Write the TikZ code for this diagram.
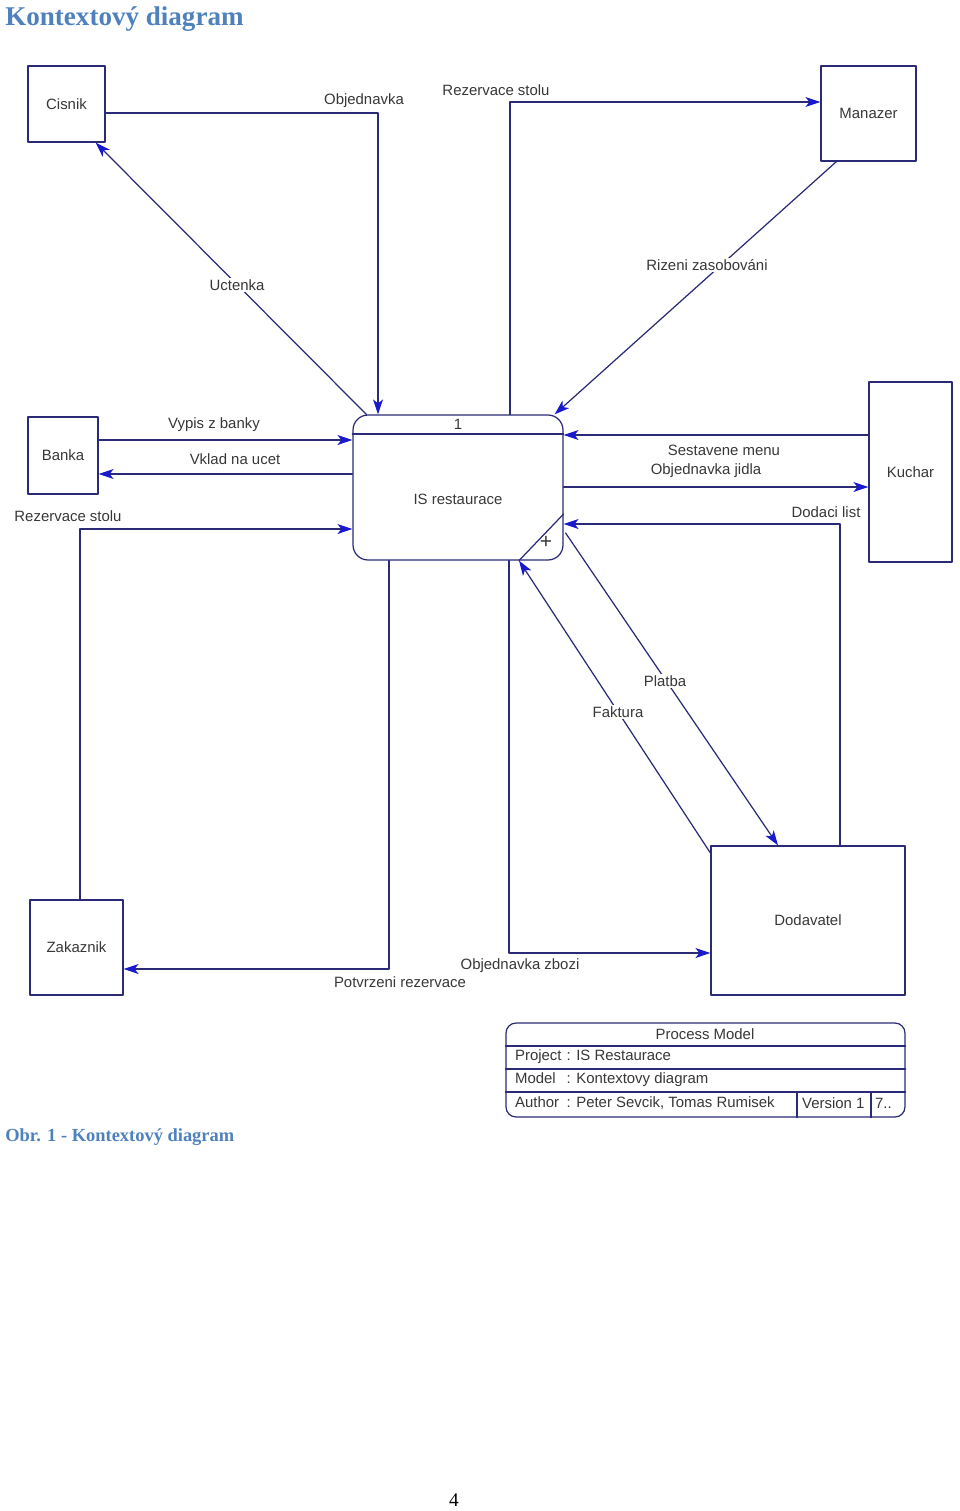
\documentclass[tikz,border=0pt]{standalone}
\usepackage{fontspec}
\setmainfont{Liberation Serif}
\setsansfont{Liberation Sans}
\usetikzlibrary{arrows.meta,calc}

\definecolor{linenavy}{RGB}{42,42,118}
\definecolor{tipblue}{RGB}{25,25,205}
\definecolor{labelgray}{RGB}{55,55,55}
\definecolor{headblue}{RGB}{79,129,189}

\newcommand{\dfdfont}{\sffamily\fontsize{8.5}{10}\selectfont}

\tikzset{
  entity/.style={draw=linenavy,line width=0.7pt,font=\dfdfont,text=labelgray,inner sep=0pt},
  process/.style={entity,rounded corners=0.3cm},
  flow/.style={draw=linenavy,line width=0.7pt,-{Stealth[length=0.3cm,width=0.2cm,inset=0.08cm,color=tipblue]}},
  flowlabel/.style={font=\dfdfont,text=labelgray,inner sep=1pt},
  cutlabel/.style={flowlabel,fill=white},
}

\begin{document}
\begin{tikzpicture}[x=0.02cm,y=-0.02cm,line cap=round,line join=round]
  \useasboundingbox (0,0) rectangle (960,1511);

  % headings
  \node[anchor=west,font=\bfseries\fontsize{15.4}{18}\selectfont,text=headblue,inner sep=0pt] (title) at (5,19) {Kontextový diagram};
  \node[anchor=west,font=\bfseries\fontsize{10.5}{12}\selectfont,text=headblue,inner sep=0pt] (caption) at (5,1137) {Obr. 1 - Kontextový diagram};
  \node[font=\fontsize{11}{13}\selectfont,inner sep=0pt] (pagenum) at (454,1500) {4};

  % entities
  \node[entity,minimum width=1.54cm,minimum height=1.52cm] (cisnik) at (66.5,104) {Cisnik};
  \node[entity,minimum width=1.90cm,minimum height=1.90cm] (manazer) at (868.5,113.5) {Manazer};
  \node[entity,minimum width=1.40cm,minimum height=1.54cm] (banka) at (63,455.5) {Banka};
  \node[entity,minimum width=1.66cm,minimum height=3.60cm] (kuchar) at (910.5,472) {Kuchar};
  \node[entity,minimum width=1.86cm,minimum height=1.90cm] (zakaznik) at (76.5,947.5) {Zakaznik};
  \node[entity,minimum width=3.88cm,minimum height=2.98cm] (dodavatel) at (808,920.5) {Dodavatel};

  % process
  \node[process,minimum width=4.2cm,minimum height=2.9cm] (is) at (458,487.5) {};
  \node[flowlabel] (isnum) at (458,424) {1};
  \node[flowlabel] (isname) at (458,499) {IS restaurace};
  \draw[linenavy,line width=0.7pt] (is.west |- 0,434) -- (is.east |- 0,434);
  \draw[linenavy,line width=0.7pt] (519,0 |- is.south) -- (is.east |- 0,514);
  \node[flowlabel,font=\sffamily\fontsize{12}{12}\selectfont] (isplus) at (546,542) {+};

  % flows
  \draw[flow] (cisnik.east |- 0,113) -| (378,0 |- is.north);
  \draw[flow] ($(is.north west)+(14,0)$) -- ($(cisnik.south east)+(-10,0)$);
  \draw[flow] (510,0 |- is.north) |- (manazer.west |- 0,102);
  \draw[flow] ($(manazer.south west)+(16,0)$) -- ($(is.north east)+(-9,0)$);
  \draw[flow] (banka.east |- 0,440) -- (is.west |- 0,440);
  \draw[flow] (is.west |- 0,474) -- (banka.east |- 0,474);
  \draw[flow] (80,0 |- zakaznik.north) |- (is.west |- 0,529);
  \draw[flow] (389,0 |- is.south) |- (zakaznik.east |- 0,969);
  \draw[flow] (kuchar.west |- 0,435) -- (is.east |- 0,435);
  \draw[flow] (is.east |- 0,487) -- (kuchar.west |- 0,487);
  \draw[flow] (840,0 |- dodavatel.north) |- (is.east |- 0,524);
  \draw[flow] ($(is.east |- 0,533)+(2,0)$) -- (778,0 |- dodavatel.north);
  \draw[flow] (dodavatel.west |- 0,853) -- (519,0 |- is.south);
  \draw[flow] (509,0 |- is.south) |- (dodavatel.west |- 0,953);

  % flow labels
  \node[flowlabel] (lobjednavka) at (364,101) {Objednavka};
  \node[cutlabel] (luctenka) at (237,285) {Uctenka};
  \node[flowlabel] (lrezervacetop) at (496,90) {Rezervace stolu};
  \node[cutlabel] (lrizeni) at (707,265) {Rizeni zasobováni};
  \node[flowlabel] (lvypis) at (214,425) {Vypis z banky};
  \node[flowlabel] (lvklad) at (235,459) {Vklad na ucet};
  \node[flowlabel] (lrezervaceleft) at (68,516) {Rezervace stolu};
  \node[flowlabel] (lpotvrzeni) at (400,982) {Potvrzeni rezervace};
  \node[flowlabel] (lsestavene) at (724,450) {Sestavene menu};
  \node[flowlabel] (ljidla) at (706,471) {Objednavka jidla};
  \node[flowlabel] (ldodaci) at (826,512) {Dodaci list};
  \node[cutlabel] (lplatba) at (665,681) {Platba};
  \node[cutlabel] (lfaktura) at (618,712) {Faktura};
  \node[flowlabel] (lzbozi) at (520,966) {Objednavka zbozi};

  % model legend
  \node[process,rounded corners=0.2cm,minimum width=7.98cm,minimum height=1.88cm] (legend) at (705.5,1070) {};
  \draw[linenavy,line width=0.7pt] (legend.west |- 0,1046) -- (legend.east |- 0,1046);
  \draw[linenavy,line width=0.7pt] (legend.west |- 0,1069) -- (legend.east |- 0,1069);
  \draw[linenavy,line width=0.7pt] (legend.west |- 0,1092) -- (legend.east |- 0,1092);
  \draw[linenavy,line width=0.7pt] (797,1092) -- (797,0 |- legend.south);
  \draw[linenavy,line width=0.7pt] (871,1092) -- (871,0 |- legend.south);
  \node[flowlabel] (lprocess) at (705,1034) {Process Model};
  \node[flowlabel,anchor=west] (lproject) at (513,1057) {\makebox[3.45em][l]{Project}: IS Restaurace};
  \node[flowlabel,anchor=west] (lmodel) at (513,1080) {\makebox[3.45em][l]{Model}: Kontextovy diagram};
  \node[flowlabel,anchor=west] (lauthor) at (513,1103) {\makebox[3.45em][l]{Author}: Peter Sevcik, Tomas Rumisek};
  \node[flowlabel,anchor=west] (lversion) at (800,1103) {Version\ 1};
  \node[flowlabel,anchor=west] (lpage) at (873,1103) {7..};
\end{tikzpicture}
\end{document}
